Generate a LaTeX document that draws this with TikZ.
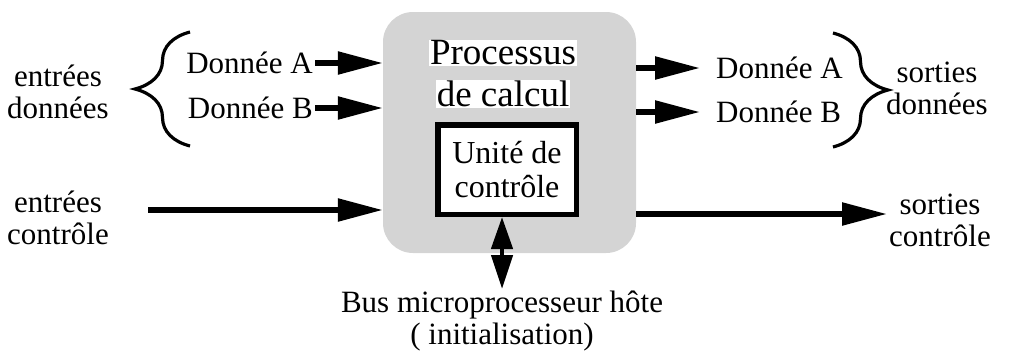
\documentclass[tikz,border=0pt]{standalone}
\usepackage{fontspec}
\setmainfont{Liberation Serif}
\usetikzlibrary{arrows.meta,decorations.pathreplacing,calc}
\begin{document}
\begin{tikzpicture}[x=1pt,y=-1pt,
  txt/.style={font=\fontsize{31}{32}\selectfont, align=center, inner sep=2pt},
  big/.style={font=\fontsize{37}{40}\selectfont, inner sep=1pt, fill=white},
  fat/.style={line width=5.5pt, -{Triangle[length=45pt,width=22pt]}},
  dbl/.style={line width=4.5pt, {Triangle[length=32pt,width=21pt]}-{Triangle[length=34pt,width=21pt]}},
  brc/.style={line width=3.2pt, decorate, decoration={brace, amplitude=55pt}},
  proc/.style={rectangle, rounded corners=30pt, fill=black!17, draw=none},
  ctrlbox/.style={rectangle, draw, line width=5.5pt, fill=white, align=center}
]
\useasboundingbox (0,0) rectangle (1022,357);

% main block
\node[proc, minimum width=253pt, minimum height=241pt] (P) at (509.5,132.5) {};
\node[big] (p1) at (503,53) {Processus};
\node[big] (p2) at (503,94) {de calcul};
\node[ctrlbox, minimum width=138.5pt, minimum height=89.5pt, font=\fontsize{32}{34}\selectfont] (U) at (507,169.5) {Unité de\\contrôle};

% left data inputs
\node[txt] (inD) at (58,92) {entrées\\données};
\node[txt, anchor=east] (dA) at (315,63) {Donnée A};
\node[txt, anchor=east] (dB) at (315,108) {Donnée B};
\draw[fat] (dA.east) -- (dA.east -| P.west);
\draw[fat] (dB.east) -- (dB.east -| P.west);
\draw[brc] (190,146) -- (190,32);

% right data outputs
\node[txt, anchor=west] (oA) at (714,68) {Donnée A};
\node[txt, anchor=west] (oB) at (714,112) {Donnée B};
\draw[fat] (oA.west -| P.east) -- ($(oA.west)+(-14,0)$);
\draw[fat] (oB.west -| P.east) -- ($(oB.west)+(-14,0)$);
\draw[brc] (833,33) -- (833,147);
\node[txt] (outD) at (937,88) {sorties\\données};

% control
\node[txt] (inC) at (58,218) {entrées\\contrôle};
\coordinate (cin) at (148,210);
\draw[fat] (cin) -- (cin -| P.west);
\node[txt] (outC) at (940,220) {sorties\\contrôle};
\coordinate (cout) at (887,214);
\draw[fat] (cout -| P.east) -- (cout);

% bus
\node[txt, anchor=north] (bus) at (502,289) {Bus microprocesseur hôte\\( initialisation)};
\draw[dbl] (bus.north |- U.south) -- (bus.north);
\end{tikzpicture}
\end{document}
